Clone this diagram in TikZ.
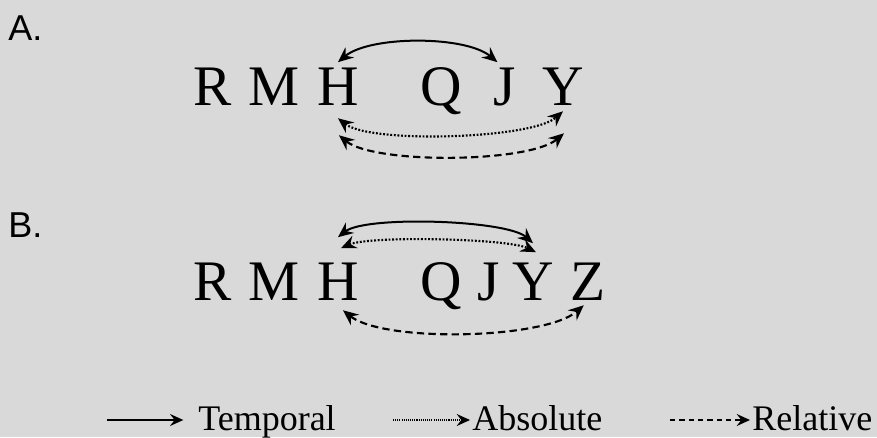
\documentclass[tikz,border=0pt]{standalone}
\usepackage{fontspec}
\setmainfont{Liberation Serif}
\newfontfamily\panelfont{Liberation Sans}
\usetikzlibrary{arrows.meta, calc}
\definecolor{bggray}{HTML}{D9D9D9}

\begin{document}
\begin{tikzpicture}[
		x=0.75pt, y=0.75pt,
		>={Stealth[length=11.5pt, width=10pt, inset=4pt]},
		% Style for the letters of the sequences
		letter/.style={font=\fontsize{43}{50}\selectfont, inner sep=0pt, anchor=base west},
		% Panel labels & legend text
		panel label/.style={font=\panelfont\fontsize{27}{32}\selectfont, inner sep=0pt, anchor=base west},
		legend label/.style={font=\fontsize{27}{30}\selectfont, inner sep=0pt, anchor=base west},
		% Styles for the three kinds of links
		temporal/.style={<->, line width=1.5pt},
		absolute/.style={<->, line width=1.6pt, dash pattern=on 1.4pt off 1.3pt},
		relative/.style={<->, line width=1.6pt, dash pattern=on 5.5pt off 3.2pt},
		legend line/.style={->, line width=1pt, >={Stealth[length=10pt, width=9pt, inset=3.5pt]}}
		]
		
		\fill[bggray] (0,0) rectangle (877,437);
		\useasboundingbox (0,0) rectangle (877,437);
		
		% CASE A
		\node[panel label] (labA) at (8,397) {A.};
		\node[letter] (AR) at (193,332) {R};
		\node[letter] (AM) at (248,332) {M};
		\node[letter] (AH) at (317,332) {H};
		\node[letter] (AQ) at (420,332) {Q};
		\node[letter] (AJ) at (493,332) {J};
		\node[letter] (AY) at (542,332) {Y};
		
		\draw[temporal] ($(AH.north)+(0,5)$) to[bend left=40, looseness=0.67] ($(AJ.north)+(-7,5)$);
		\draw[absolute] ($(AH.south)+(0,-13)$) to[bend right=40, looseness=0.47] ($(AY.south)+(0,-6)$);
		\draw[relative] ($(AH.south)+(1,-30)$) to[bend right=40, looseness=0.52] ($(AY.south)+(1,-28)$);
		
		% CASE B
		\node[panel label] (labB) at (8,200) {B.};
		\node[letter] (BR) at (193,137) {R};
		\node[letter] (BM) at (248,137) {M};
		\node[letter] (BH) at (317,137) {H};
		\node[letter] (BQ) at (420,137) {Q};
		\node[letter] (BJ) at (477,137) {J};
		\node[letter] (BY) at (512,137) {Y};
		\node[letter] (BZ) at (570,137) {Z};
		
		\draw[temporal] ($(BH.north)+(0,25)$) to[bend left=40, looseness=0.46] ($(BY.north)+(0,19)$);
		\draw[absolute] ($(BH.north)+(3,14)$) to[bend left=25, looseness=0.41] ($(BY.north)+(3,10)$);
		\draw[relative] ($(BH.south)+(5,-10)$) to[bend right=40, looseness=0.55] ($(BZ.south)+(-4,-5)$);
		
		% Legend
		\node[legend label] (lgTemporal) at (198,7) {Temporal};
		\node[legend label] (lgAbsolute) at (472,7) {Absolute};
		\node[legend label] (lgRelative) at (752,7) {Relative};
		\coordinate (lgT0) at (107,17);
		\coordinate (lgA0) at (393,17);
		\coordinate (lgR0) at (670,17);
		\draw[legend line, line width=1.2pt, shorten >=11pt] (lgT0) -- (lgT0 -| lgTemporal.west);
		\draw[legend line, line width=0.8pt, dash pattern=on 0.8pt off 0.8pt, shorten >=1.5pt] (lgA0) -- (lgA0 -| lgAbsolute.west);
		\draw[legend line, dash pattern=on 4pt off 3pt, shorten >=1.5pt] (lgR0) -- (lgR0 -| lgRelative.west);
	\end{tikzpicture}
\end{document}
